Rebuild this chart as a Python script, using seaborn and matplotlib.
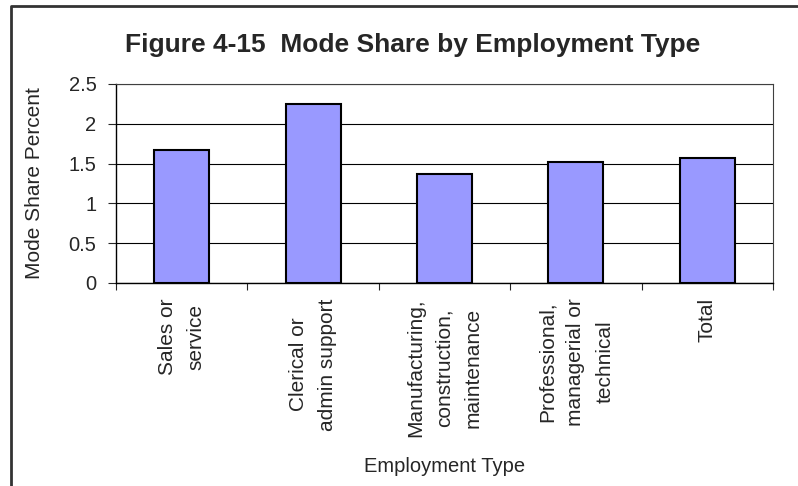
import matplotlib
matplotlib.use("Agg")
import matplotlib.pyplot as plt
from matplotlib.lines import Line2D
from matplotlib.ticker import FixedLocator
import seaborn as sns

categories = [
    "Sales or\nservice",
    "Clerical or\nadmin support",
    "Manufacturing,\nconstruction,\nmaintenance",
    "Professional,\nmanagerial or\ntechnical",
    "Total",
]
mode_share = [1.67, 2.25, 1.37, 1.52, 1.57]
y_ticks = [0, 0.5, 1, 1.5, 2, 2.5]
y_tick_labels = ["0", "0.5", "1", "1.5", "2", "2.5"]

sns.set_style("white")
plt.rcParams["font.family"] = ["Liberation Sans", "DejaVu Sans"]

fig = plt.figure(figsize=(7.98, 4.86), dpi=100)
ax = fig.add_axes([116 / 798, 1 - 283 / 486, 657 / 798, 199 / 486])

sns.barplot(
    x=categories,
    y=mode_share,
    color="#9999ff",
    saturation=1,
    edgecolor="black",
    linewidth=1.5,
    width=0.42,
    ax=ax,
    zorder=3,
)

ax.set_ylim(0, 2.5)
ax.set_xlim(-0.5, len(categories) - 0.5)
ax.set_yticks(y_ticks)
ax.set_yticklabels(y_tick_labels, fontsize=14.5)
ax.yaxis.grid(True, color="black", linewidth=0.8)
ax.set_axisbelow(True)

for side in ["top", "right"]:
    ax.spines[side].set_color("#404040")
    ax.spines[side].set_linewidth(0.8)
for side in ["left", "bottom"]:
    ax.spines[side].set_color("black")
    ax.spines[side].set_linewidth(1.0)

# y ticks outward, x ticks between categories
ax.tick_params(axis="y", direction="out", length=6, width=0.8, pad=8, left=True)
ax.tick_params(axis="x", which="major", length=0, pad=11, bottom=True)
ax.xaxis.set_minor_locator(FixedLocator([i - 0.5 for i in range(len(categories) + 1)]))
ax.tick_params(axis="x", which="minor", direction="out", length=5, width=0.8, bottom=True)

for lab in ax.get_xticklabels():
    lab.set_rotation(90)
    lab.set_fontsize(15)
    lab.set_ha("center")
    lab.set_va("top")
    lab.set_multialignment("center")
    lab.set_linespacing(1.65)

ax.set_xlabel("Employment Type", fontsize=14.5)
ax.xaxis.set_label_coords(0.5, (283 - 466) / 199)
ax.xaxis.label.set_va("center")
ax.set_ylabel("Mode Share Percent", fontsize=15)
ax.yaxis.set_label_coords((35 - 116) / 657, 0.5)
ax.yaxis.label.set_va("center")

fig.text(413 / 798, 1 - 45 / 486, "Figure 4-15  Mode Share by Employment Type",
         fontsize=19, fontweight="bold", ha="center", va="center")

# chart border (cropped on right and bottom)
bx, by = 11 / 798, 1 - 6 / 486
fig.add_artist(Line2D([bx, bx, 1.0], [0.0, by, by], transform=fig.transFigure,
                      color="#333333", linewidth=2))

plt.savefig("out.png", dpi=100)
